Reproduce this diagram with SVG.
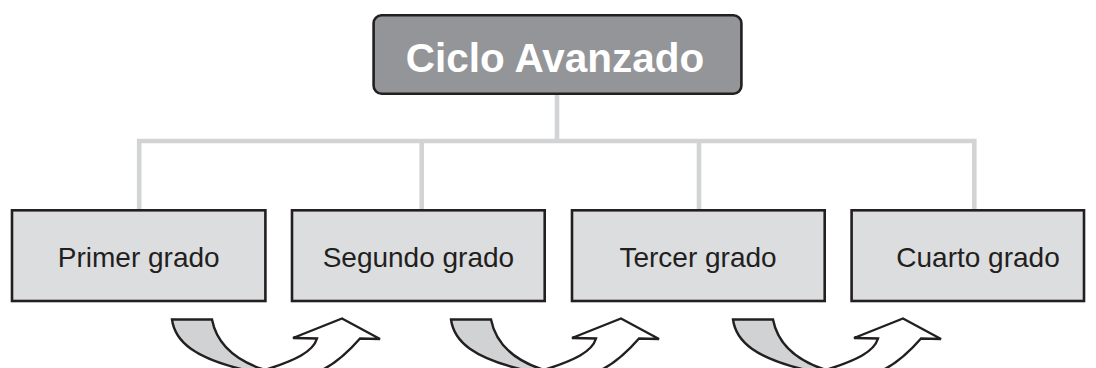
<svg xmlns="http://www.w3.org/2000/svg" xmlns:xlink="http://www.w3.org/1999/xlink" width="1096" height="368" viewBox="0 0 1096 368">
  <style>
    .conn { fill: none; stroke: #d1d3d4; stroke-width: 4.6; stroke-linecap: butt; stroke-linejoin: miter; }
    .box { fill: #dcdddf; stroke: #231f20; stroke-width: 2.6; }
    .top { fill: #939598; stroke: #231f20; stroke-width: 2.6; }
    .lbl { font-family: "Liberation Sans", Arial, sans-serif; font-size: 28px; fill: #231f20; text-anchor: middle; }
    .title { font-family: "Liberation Sans", Arial, sans-serif; font-weight: bold; font-size: 40.5px; fill: #ffffff; text-anchor: middle; }
    .band { fill: #d1d2d4; stroke: #231f20; stroke-width: 2.4; stroke-linejoin: miter; }
    .head { fill: #ffffff; stroke: #231f20; stroke-width: 2.4; stroke-linejoin: miter; }
  </style>
  <defs>
    <g id="uturn">
      <path class="band" d="M172,319.5 L212,319.5 C216,340 230,358 262,369 L262,400 L245,400 L245,370 C195,358 175,342 172,319.5 Z"/>
      <path class="head" d="M268,369 C295,360 313,352 317,338.5 L293,338 L342,318.5 L380,339 L360,338.5 C350,350 338,362 322,370 L322,400 L268,400 Z"/>
    </g>
  </defs>

  <g id="connectors">
    <path class="conn" d="M557,95 V141"/>
    <path class="conn" d="M139.2,209 V141 H974.3 V209"/>
    <path class="conn" d="M421.7,141 V209"/>
    <path class="conn" d="M699,141 V209"/>
  </g>

  <g id="ciclo-avanzado">
    <rect class="top" x="373.6" y="15.3" width="367.8" height="78.4" rx="8" ry="8"/>
    <text class="title" x="555" y="72">Ciclo Avanzado</text>
  </g>

  <g id="primer-grado">
    <rect class="box" x="12" y="210.3" width="253.4" height="90.7"/>
    <text class="lbl" x="138.7" y="266.7">Primer grado</text>
  </g>
  <g id="segundo-grado">
    <rect class="box" x="292" y="210.3" width="252.7" height="90.7"/>
    <text class="lbl" x="418.4" y="266.7">Segundo grado</text>
  </g>
  <g id="tercer-grado">
    <rect class="box" x="572" y="210.3" width="252.7" height="90.7"/>
    <text class="lbl" x="698" y="266.7">Tercer grado</text>
  </g>
  <g id="cuarto-grado">
    <rect class="box" x="851.6" y="210.3" width="232.4" height="90.7"/>
    <text class="lbl" x="978" y="266.7">Cuarto grado</text>
  </g>

  <g id="flow-arrows">
    <use xlink:href="#uturn"/>
    <use xlink:href="#uturn" transform="translate(279,0)"/>
    <use xlink:href="#uturn" transform="translate(561,0)"/>
  </g>
</svg>
